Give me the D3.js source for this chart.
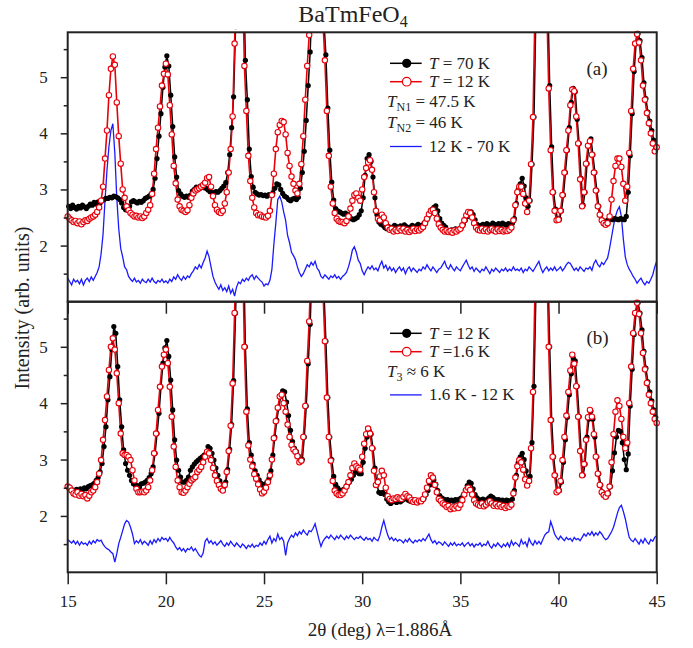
<!DOCTYPE html>
<html><head><meta charset="utf-8">
<script src="https://cdn.jsdelivr.net/npm/d3@7"></script>
<style>
body{margin:0;background:#fff}
svg{display:block}
svg text{font-family:"Liberation Serif","Times New Roman",serif !important;fill:#222}
</style>
</head><body>
<svg id="c" width="693" height="648"></svg>
<script>
// ---------- DATA (2θ from 15 to 45 deg, step 0.1) ----------
const thetaStart = 15, thetaStep = 0.1;
const xTicks = [15, 20, 25, 30, 35, 40, 45];
const yMajorTicks = [2, 3, 4, 5];
const yMinorTicks = [1.5, 2.5, 3.5, 4.5, 5.5];

// Panel (a): T = 70 K
const a70 = [
2.70,2.66,2.72,2.68,2.65,2.70,2.67,2.72,2.69,2.66,
2.70,2.74,2.72,2.77,2.74,2.78,2.76,2.80,2.82,2.84,
2.84,2.86,2.85,2.88,2.87,2.85,2.82,2.76,2.68,2.64,
2.63,2.70,2.78,2.80,2.78,2.76,2.79,2.77,2.80,2.84,
2.86,2.88,2.92,3.00,3.20,3.55,3.95,4.35,4.82,5.18,
5.38,5.20,4.68,4.12,3.58,3.22,2.98,2.92,2.88,2.86,
2.88,2.86,2.90,2.97,3.00,3.04,3.02,3.06,3.05,3.03,
3.02,2.99,2.96,2.95,2.93,2.96,2.95,2.98,3.02,3.06,
3.12,3.30,3.62,4.10,4.65,5.90,7.20,7.90,7.80,6.90,
5.30,4.60,3.72,3.23,3.04,2.95,2.92,2.90,2.91,2.89,
2.90,2.88,2.91,2.90,2.94,3.02,3.10,3.08,3.00,2.93,
2.88,2.86,2.82,2.80,2.83,2.84,2.82,2.86,3.02,3.30,
3.68,4.23,4.85,5.45,6.40,7.60,8.50,8.80,8.40,7.00,
6.00,5.40,4.45,3.70,3.13,2.81,2.66,2.62,2.60,2.58,
2.56,2.58,2.55,2.52,2.48,2.46,2.48,2.50,2.55,2.62,
2.85,3.25,3.55,3.62,3.50,3.22,2.85,2.55,2.42,2.38,
2.36,2.32,2.30,2.34,2.30,2.33,2.36,2.34,2.31,2.35,
2.33,2.37,2.34,2.30,2.33,2.36,2.32,2.35,2.38,2.35,
2.36,2.40,2.44,2.50,2.58,2.64,2.68,2.71,2.62,2.48,
2.40,2.36,2.33,2.24,2.25,2.28,2.27,2.30,2.28,2.29,
2.32,2.38,2.45,2.52,2.58,2.60,2.55,2.46,2.38,2.34,
2.36,2.38,2.36,2.39,2.37,2.35,2.40,2.38,2.36,2.39,
2.37,2.40,2.38,2.36,2.39,2.38,2.40,2.48,2.75,3.00,
3.10,3.20,3.06,2.85,2.70,2.80,3.45,4.29,6.20,8.00,
9.00,9.30,9.00,8.20,6.40,4.85,3.76,2.95,2.65,2.47,
2.47,2.62,2.90,3.30,3.70,4.10,4.55,4.80,4.74,4.25,
3.82,3.20,2.72,2.95,3.46,3.80,3.90,3.62,3.30,2.98,
2.70,2.55,2.45,2.42,2.44,2.46,2.47,2.46,2.48,2.47,
2.46,2.48,2.47,2.46,2.52,2.95,3.60,4.35,5.10,5.60,
5.78,5.65,5.35,4.90,4.62,4.38,4.22,4.05,3.88,3.72,
3.72];

// Panel (a): T = 12 K
const a12 = [
2.52,2.48,2.45,2.42,2.44,2.40,2.43,2.38,2.42,2.45,
2.44,2.48,2.50,2.52,2.55,2.60,2.68,2.80,3.05,3.55,
4.05,4.68,5.15,5.37,5.22,4.55,3.95,3.46,3.00,2.85,
2.70,2.63,2.58,2.55,2.52,2.53,2.50,2.52,2.49,2.52,
2.58,2.64,2.72,2.92,3.28,3.72,4.10,4.48,4.85,5.06,
5.24,5.05,4.50,3.98,3.42,3.11,2.82,2.70,2.64,2.62,
2.60,2.63,2.72,2.85,2.93,2.98,3.00,3.02,3.05,3.08,
3.12,3.20,3.22,3.05,2.88,2.72,2.64,2.60,2.58,2.62,
2.75,2.95,3.30,3.72,4.30,5.60,7.00,7.80,7.70,6.80,
5.20,4.40,3.60,3.15,2.85,2.68,2.58,2.54,2.55,2.52,
2.51,2.50,2.53,2.62,2.90,3.28,3.72,4.02,4.15,4.22,
4.20,3.98,3.65,3.42,3.23,3.10,2.98,2.93,3.10,3.45,
3.95,4.60,5.20,5.75,6.60,7.70,8.50,8.80,8.40,7.20,
6.00,5.30,4.40,3.60,3.05,2.75,2.58,2.48,2.44,2.42,
2.42,2.40,2.44,2.52,2.66,2.80,2.90,2.93,2.85,2.80,
3.00,3.22,3.38,3.48,3.52,3.35,2.95,2.62,2.48,2.45,
2.55,2.50,2.40,2.32,2.28,2.30,2.25,2.28,2.26,2.30,
2.27,2.30,2.25,2.28,2.24,2.27,2.30,2.26,2.29,2.27,
2.30,2.33,2.40,2.48,2.56,2.62,2.64,2.58,2.48,2.38,
2.32,2.28,2.25,2.27,2.24,2.26,2.23,2.27,2.25,2.28,
2.30,2.36,2.45,2.54,2.60,2.58,2.50,2.40,2.32,2.28,
2.27,2.30,2.26,2.29,2.25,2.28,2.30,2.27,2.25,2.29,
2.26,2.28,2.25,2.27,2.26,2.28,2.32,2.45,2.72,2.95,
3.05,3.05,2.92,2.75,2.60,2.80,3.45,4.29,6.20,8.00,
9.00,9.30,9.00,8.20,6.30,4.80,3.70,2.95,2.62,2.45,
2.46,2.62,2.90,3.30,3.70,4.05,4.50,4.78,4.75,4.30,
3.82,3.18,2.70,2.95,3.46,3.78,3.86,3.62,3.30,2.98,
2.70,2.55,2.45,2.40,2.37,2.40,2.52,2.82,3.15,3.42,
3.55,3.55,3.40,3.10,2.80,3.05,3.65,4.40,5.15,5.60,
5.77,5.62,5.30,4.85,4.60,4.36,4.18,4.00,3.82,3.68,
3.75];

// Panel (a): 12 K - 70 K (offset difference)
const aDiff = [
1.42,1.36,1.30,1.40,1.35,1.38,1.32,1.40,1.30,1.38,
1.42,1.36,1.44,1.38,1.45,1.52,1.62,1.85,2.20,2.80,
3.34,3.76,4.05,4.17,3.65,2.85,2.30,1.95,1.80,1.62,
1.57,1.45,1.40,1.36,1.42,1.35,1.38,1.33,1.40,1.36,
1.34,1.40,1.35,1.42,1.36,1.33,1.38,1.35,1.40,1.34,
1.37,1.33,1.40,1.36,1.44,1.40,1.48,1.42,1.38,1.45,
1.40,1.46,1.43,1.50,1.55,1.62,1.58,1.66,1.60,1.70,
1.78,1.90,1.80,1.62,1.45,1.35,1.28,1.22,1.30,1.20,
1.25,1.18,1.28,1.15,1.22,1.10,1.26,1.35,1.32,1.40,
1.36,1.42,1.38,1.45,1.48,1.40,1.46,1.42,1.38,1.35,
1.28,1.32,1.30,1.38,1.57,2.02,2.40,2.82,2.88,2.78,
2.60,2.45,2.18,2.05,1.88,1.82,1.75,1.62,1.52,1.45,
1.50,1.58,1.66,1.62,1.70,1.65,1.72,1.60,1.55,1.45,
1.42,1.48,1.44,1.40,1.46,1.43,1.48,1.42,1.45,1.40,
1.45,1.48,1.52,1.62,1.75,1.92,1.98,1.88,1.74,1.68,
1.55,1.48,1.56,1.62,1.58,1.64,1.57,1.60,1.55,1.65,
1.72,1.60,1.65,1.56,1.62,1.55,1.60,1.52,1.58,1.62,
1.55,1.60,1.50,1.58,1.62,1.54,1.60,1.56,1.52,1.58,
1.55,1.62,1.58,1.66,1.60,1.55,1.62,1.57,1.52,1.58,
1.60,1.66,1.72,1.62,1.58,1.66,1.60,1.55,1.62,1.58,
1.55,1.62,1.68,1.74,1.65,1.58,1.62,1.54,1.60,1.56,
1.52,1.58,1.55,1.62,1.56,1.50,1.58,1.54,1.60,1.56,
1.52,1.58,1.55,1.60,1.54,1.58,1.55,1.62,1.56,1.58,
1.55,1.60,1.52,1.58,1.55,1.62,1.58,1.54,1.60,1.66,
1.72,1.60,1.52,1.58,1.62,1.55,1.60,1.56,1.62,1.55,
1.58,1.62,1.55,1.60,1.66,1.70,1.68,1.62,1.56,1.60,
1.55,1.62,1.58,1.54,1.60,1.58,1.62,1.56,1.68,1.74,
1.66,1.62,1.70,1.66,1.72,1.78,1.95,2.15,2.35,2.52,
2.63,2.69,2.52,2.12,1.80,1.66,1.58,1.52,1.45,1.40,
1.33,1.38,1.42,1.35,1.30,1.36,1.33,1.40,1.48,1.62,
1.72];

// Panel (b): T = 12 K
const b12 = [
2.50,2.48,2.46,2.45,2.47,2.44,2.48,2.46,2.50,2.48,
2.52,2.54,2.55,2.58,2.63,2.68,2.78,2.93,3.23,3.58,
4.06,4.47,4.95,5.36,5.24,4.65,4.06,3.58,3.17,2.93,
2.81,2.72,2.63,2.57,2.55,2.54,2.51,2.57,2.58,2.60,
2.63,2.68,2.75,2.87,3.11,3.46,3.82,4.29,4.71,4.98,
5.11,4.83,4.41,3.88,3.35,2.99,2.81,2.69,2.60,2.60,
2.63,2.69,2.81,2.87,2.92,2.96,2.99,3.02,3.05,3.08,
3.11,3.23,3.20,3.11,2.99,2.85,2.72,2.62,2.55,2.52,
2.60,2.82,3.18,3.62,4.40,5.60,7.00,7.80,7.70,6.80,
5.00,3.90,3.30,3.08,2.92,2.80,2.72,2.64,2.58,2.55,
2.56,2.60,2.66,2.80,3.08,3.40,3.70,3.92,4.12,4.22,
4.20,4.02,3.78,3.52,3.32,3.20,3.14,3.06,2.98,3.00,
3.40,3.95,4.70,5.40,6.50,7.70,8.50,8.80,8.40,7.20,
6.00,5.10,4.10,3.40,3.00,2.70,2.56,2.50,2.46,2.45,
2.47,2.50,2.55,2.60,2.65,2.72,2.78,2.78,2.75,2.75,
2.95,3.20,3.40,3.52,3.45,3.20,2.85,2.55,2.42,2.40,
2.42,2.38,2.30,2.25,2.22,2.25,2.27,2.24,2.27,2.25,
2.28,2.30,2.33,2.28,2.26,2.29,2.24,2.27,2.25,2.26,
2.28,2.32,2.38,2.45,2.55,2.60,2.64,2.56,2.45,2.36,
2.32,2.30,2.28,2.29,2.27,2.28,2.26,2.29,2.28,2.30,
2.32,2.38,2.46,2.54,2.60,2.58,2.48,2.38,2.32,2.29,
2.28,2.30,2.27,2.29,2.32,2.35,2.33,2.30,2.28,2.29,
2.27,2.28,2.26,2.28,2.27,2.26,2.30,2.45,2.72,2.95,
3.05,3.11,3.00,2.80,2.62,2.70,3.30,4.30,6.00,7.80,
9.00,9.50,9.30,8.50,6.50,5.00,3.70,3.05,2.72,2.44,
2.45,2.60,2.95,3.35,3.75,4.15,4.52,4.80,4.75,4.30,
3.76,3.15,2.72,2.92,3.40,3.72,3.86,3.72,3.40,3.05,
2.75,2.55,2.42,2.37,2.35,2.40,2.52,2.80,3.12,3.40,
3.52,3.50,3.30,3.00,2.82,3.10,3.95,4.60,5.22,5.60,
5.78,5.60,5.30,4.92,4.62,4.38,4.20,4.04,3.88,3.75,
3.70];

// Panel (b): T = 1.6 K
const b16 = [
2.52,2.50,2.45,2.40,2.38,2.42,2.36,2.39,2.35,2.37,
2.31,2.36,2.42,2.45,2.51,2.60,2.75,2.99,3.35,3.70,
4.12,4.59,5.00,5.15,4.95,4.53,4.00,3.46,3.11,3.08,
3.08,3.05,2.99,2.81,2.63,2.48,2.42,2.42,2.43,2.42,
2.45,2.51,2.63,2.81,3.11,3.46,3.88,4.29,4.65,4.86,
4.95,4.71,4.29,3.76,3.23,2.87,2.63,2.51,2.42,2.41,
2.45,2.51,2.57,2.63,2.66,2.69,2.78,2.82,2.87,2.95,
3.05,3.14,3.11,2.99,2.85,2.72,2.62,2.55,2.48,2.45,
2.55,2.78,3.15,3.60,4.35,5.60,7.00,7.80,7.70,6.80,
5.00,3.85,3.25,3.00,2.88,2.74,2.66,2.56,2.47,2.40,
2.43,2.50,2.60,2.72,3.00,3.38,3.68,3.92,4.12,4.15,
4.00,3.85,3.62,3.40,3.26,3.18,3.14,3.06,2.95,2.98,
3.40,3.95,4.75,5.45,6.50,7.70,8.50,8.80,8.40,7.20,
6.00,5.10,4.10,3.40,2.98,2.62,2.45,2.40,2.37,2.37,
2.40,2.45,2.52,2.60,2.72,2.85,2.93,2.88,2.85,2.82,
3.05,3.28,3.45,3.55,3.46,3.20,2.80,2.55,2.60,2.70,
2.80,2.72,2.50,2.35,2.30,2.28,2.31,2.30,2.33,2.31,
2.30,2.34,2.39,2.35,2.33,2.28,2.25,2.28,2.24,2.27,
2.26,2.30,2.38,2.50,2.62,2.72,2.68,2.55,2.42,2.30,
2.27,2.22,2.20,2.16,2.18,2.12,2.15,2.13,2.17,2.14,
2.20,2.28,2.38,2.46,2.50,2.46,2.38,2.28,2.22,2.20,
2.18,2.22,2.17,2.20,2.24,2.26,2.22,2.18,2.21,2.17,
2.20,2.16,2.18,2.14,2.17,2.16,2.20,2.40,2.68,2.88,
2.99,2.95,2.82,2.65,2.54,2.62,3.20,4.20,6.00,7.80,
9.00,9.50,9.30,8.50,6.50,5.00,3.70,3.05,2.72,2.42,
2.45,2.62,2.99,3.40,3.78,4.20,4.58,4.86,4.70,4.30,
3.76,3.15,2.72,2.92,3.35,3.75,3.88,3.76,3.45,3.05,
2.75,2.55,2.42,2.37,2.34,2.40,2.52,2.95,3.45,3.85,
4.05,3.95,3.72,3.40,3.20,3.30,4.00,4.65,5.24,5.60,
5.78,5.58,5.24,4.89,4.60,4.36,4.15,4.00,3.85,3.72,
3.65];

// Panel (b): 1.6 K - 12 K (offset difference)
const bDiff = [
1.58,1.55,1.52,1.56,1.50,1.55,1.48,1.54,1.50,1.52,
1.48,1.55,1.50,1.56,1.52,1.58,1.55,1.57,1.50,1.45,
1.42,1.40,1.36,1.33,1.18,1.33,1.51,1.62,1.74,1.86,
1.92,1.89,1.80,1.68,1.51,1.56,1.52,1.58,1.50,1.55,
1.52,1.48,1.56,1.50,1.58,1.53,1.60,1.55,1.62,1.58,
1.60,1.55,1.62,1.56,1.52,1.45,1.40,1.44,1.38,1.42,
1.36,1.42,1.40,1.45,1.38,1.42,1.36,1.30,1.27,1.34,
1.55,1.60,1.52,1.56,1.50,1.54,1.48,1.52,1.56,1.50,
1.46,1.52,1.48,1.55,1.50,1.46,1.52,1.48,1.44,1.50,
1.47,1.42,1.48,1.45,1.50,1.44,1.48,1.46,1.52,1.48,
1.55,1.50,1.58,1.64,1.52,1.60,1.55,1.68,1.58,1.62,
1.55,1.30,1.52,1.60,1.66,1.62,1.70,1.65,1.72,1.68,
1.75,1.70,1.66,1.74,1.72,1.78,1.86,1.72,1.58,1.46,
1.55,1.60,1.64,1.60,1.66,1.62,1.58,1.64,1.60,1.66,
1.62,1.58,1.64,1.60,1.66,1.62,1.58,1.62,1.60,1.64,
1.60,1.57,1.62,1.58,1.60,1.55,1.62,1.58,1.56,1.65,
1.80,1.92,1.78,1.66,1.58,1.62,1.56,1.60,1.55,1.58,
1.56,1.52,1.58,1.54,1.60,1.55,1.52,1.57,1.54,1.58,
1.55,1.60,1.56,1.62,1.68,1.58,1.52,1.56,1.50,1.54,
1.52,1.48,1.54,1.50,1.46,1.52,1.48,1.53,1.47,1.50,
1.48,1.52,1.46,1.50,1.53,1.47,1.51,1.45,1.50,1.48,
1.52,1.46,1.50,1.48,1.55,1.47,1.43,1.50,1.46,1.52,
1.48,1.44,1.50,1.46,1.52,1.45,1.56,1.48,1.53,1.50,
1.46,1.58,1.50,1.54,1.46,1.60,1.52,1.48,1.56,1.50,
1.55,1.50,1.58,1.66,1.70,1.72,1.90,1.80,1.68,1.62,
1.58,1.64,1.60,1.56,1.62,1.58,1.60,1.55,1.62,1.58,
1.60,1.56,1.62,1.68,1.64,1.70,1.66,1.72,1.65,1.70,
1.66,1.72,1.68,1.62,1.58,1.60,1.66,1.72,1.80,1.92,
2.05,2.15,2.19,2.08,1.95,1.78,1.62,1.57,1.54,1.60,
1.55,1.50,1.58,1.52,1.60,1.54,1.50,1.58,1.55,1.62,
1.65];

// Legend texts
const legendA = {hot: "= 70 K", cold: "= 12 K", temps: [["N1", " = 47.5 K"], ["N2", " = 46 K"]], diff: "12 K - 70 K", tag: "(a)"};
const legendB = {hot: "= 12 K", cold: "=1.6 K", temps: [["3", " \u2248 6 K"]], diff: "1.6 K - 12 K", tag: "(b)"};

// ---------- DRAW ----------
const svg = d3.select("#c");
const plotL = 67.7, plotR = 656.7;
const x = d3.scaleLinear().domain([15, 45]).range([plotL, plotR]);
const theta = a70.map((d, i) => thetaStart + i * thetaStep);
const blackShift = thetaStep / 2;
const RED = "#e8000b", BLUE = "#1a1aff";

// title
const title = svg.append("text").attr("x", 353).attr("y", 22).attr("text-anchor", "middle")
  .style("font-size", "24px");
title.append("tspan").text("BaTmFeO");
title.append("tspan").attr("dy", 5).style("font-size", "16px").text("4");

const panels = [
  {top: 32.3, bottom: 301.7, black: a70, red: a12, blue: aDiff, leg: legendA, labels: false, legTop: 63.3, tagY: 75},
  {top: 301.7, bottom: 572.3, black: b12, red: b16, blue: bDiff, leg: legendB, labels: true, legTop: 333.3, tagY: 343.5}
];

panels.forEach((p, pi) => {
  const y = d3.scaleLinear().domain([1, 5.8]).range([p.bottom, p.top]);
  const g = svg.append("g");
  const cid = "clip" + pi, cmid = "clipm" + pi;
  const defs = svg.append("defs");
  defs.append("clipPath").attr("id", cid).append("rect")
    .attr("x", plotL).attr("y", p.top).attr("width", plotR - plotL).attr("height", p.bottom - p.top);
  defs.append("clipPath").attr("id", cmid).append("rect")
    .attr("x", plotL - 4).attr("y", p.top - 3).attr("width", plotR - plotL + 8).attr("height", p.bottom - p.top + 3);

  const lineB = d3.line().x((d, i) => x(theta[i] + blackShift)).y(d => y(d));
  const line = d3.line().x((d, i) => x(theta[i])).y(d => y(d));

  const lg = g.append("g").attr("clip-path", `url(#${cid})`);
  const mg = g.append("g").attr("clip-path", `url(#${cmid})`);

  // blue difference
  lg.append("path").datum(p.blue).attr("d", line).attr("fill", "none")
    .attr("stroke", BLUE).attr("stroke-width", 1.3);
  // black series
  lg.append("path").datum(p.black).attr("d", lineB).attr("fill", "none")
    .attr("stroke", "#000").attr("stroke-width", 1.5);
  mg.selectAll("circle.k").data(p.black.map((v, i) => ({t: theta[i] + blackShift, v})).filter(d => d.t <= 45))
    .join("circle").attr("class", "k").attr("cx", d => x(d.t)).attr("cy", d => y(d.v))
    .attr("r", 2.6).attr("fill", "#000");
  // red series
  lg.append("path").datum(p.red).attr("d", line).attr("fill", "none")
    .attr("stroke", RED).attr("stroke-width", 1.6);
  mg.selectAll("circle.r").data(p.red.map((v, i) => ({t: theta[i], v})))
    .join("circle").attr("class", "r").attr("cx", d => x(d.t)).attr("cy", d => y(d.v))
    .attr("r", 2.7).attr("fill", "#fff").attr("stroke", RED).attr("stroke-width", 1.1);

  // axes
  const ax = g.append("g").attr("transform", `translate(${plotL},0)`)
    .call(d3.axisLeft(y).tickValues(yMajorTicks).tickSize(7).tickPadding(13).tickFormat(d3.format("d")));
  ax.select(".domain").remove();
  ax.selectAll("line").attr("stroke", "#222").attr("stroke-width", 1.5);
  ax.selectAll("text").style("font-size", "17px").attr("fill", "#222");
  const axm = g.append("g").attr("transform", `translate(${plotL},0)`)
    .call(d3.axisLeft(y).tickValues(yMinorTicks).tickSize(4).tickFormat(""));
  axm.select(".domain").remove();
  axm.selectAll("line").attr("stroke", "#222").attr("stroke-width", 1.5);

  const xa = g.append("g").attr("transform", `translate(0,${p.bottom})`)
    .call(d3.axisBottom(x).tickValues(xTicks).tickSize(12).tickPadding(11)
      .tickFormat(p.labels ? d3.format("d") : ""));
  xa.select(".domain").remove();
  xa.selectAll("line").attr("stroke", "#222").attr("stroke-width", 1.5);
  xa.selectAll("text").style("font-size", "17px").attr("fill", "#222");

  // frame
  g.append("rect").attr("x", plotL).attr("y", p.top).attr("width", plotR - plotL)
    .attr("height", p.bottom - p.top).attr("fill", "none").attr("stroke", "#222").attr("stroke-width", 2);

  // legend
  const L = p.leg, ly = p.legTop, fs = "17px";
  const lx0 = 390, lx1 = 421.7, lxm = 406.7, tx = 429;
  g.append("line").attr("x1", lx0).attr("x2", lx1).attr("y1", ly).attr("y2", ly).attr("stroke", "#000").attr("stroke-width", 1.5);
  g.append("circle").attr("cx", lxm).attr("cy", ly).attr("r", 4.6).attr("fill", "#000");
  let t = g.append("text").attr("x", tx).attr("y", ly + 5.3).style("font-size", fs);
  t.append("tspan").style("font-style", "italic").text("T");
  t.append("tspan").text(" " + L.hot);
  const ly2 = ly + 18.4;
  g.append("line").attr("x1", lx0).attr("x2", lx1).attr("y1", ly2).attr("y2", ly2).attr("stroke", RED).attr("stroke-width", 1.5);
  g.append("circle").attr("cx", lxm).attr("cy", ly2).attr("r", 4.3).attr("fill", "#fff").attr("stroke", RED).attr("stroke-width", 1.2);
  t = g.append("text").attr("x", tx).attr("y", ly2 + 5.3).style("font-size", fs);
  t.append("tspan").style("font-style", "italic").text("T");
  t.append("tspan").text(" " + L.cold);
  let ty = ly + 43.4;
  L.temps.forEach(item => {
    const tt = g.append("text").attr("x", 387).attr("y", ty).style("font-size", fs);
    tt.append("tspan").style("font-style", "italic").text("T");
    tt.append("tspan").attr("dy", 4).style("font-size", "12px").text(item[0]);
    tt.append("tspan").attr("dy", -4).text(item[1]);
    ty += 21.6;
  });
  const lyd = ty - 3.4;  // blue legend line
  g.append("line").attr("x1", lx0).attr("x2", lx1).attr("y1", lyd).attr("y2", lyd).attr("stroke", BLUE).attr("stroke-width", 1.3);
  g.append("text").attr("x", tx).attr("y", lyd + 5.3).style("font-size", fs).text(L.diff);

  g.append("text").attr("x", 586.5).attr("y", p.tagY).style("font-size", "19px").text(L.tag);
});

// axis titles
svg.append("text").attr("transform", "translate(29,308) rotate(-90)").attr("text-anchor", "middle")
  .style("font-size", "20px").text("Intensity (arb. units)");
svg.append("text").attr("x", 380).attr("y", 636).attr("text-anchor", "middle")
  .style("font-size", "19px").text("2\u03b8 (deg) \u03bb=1.886\u00c5");
</script>
</body></html>
